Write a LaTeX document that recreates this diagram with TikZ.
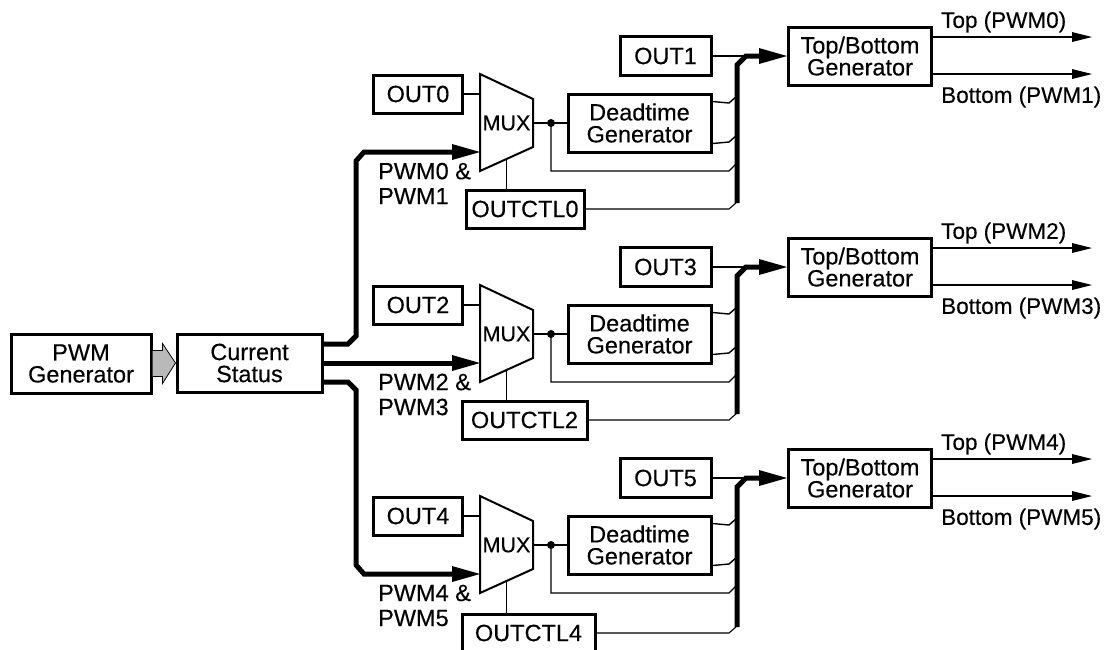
\documentclass[tikz,border=0pt]{standalone}
\usepackage{fontspec}
\setmainfont[FakeBold=0.3]{Liberation Sans}
\usetikzlibrary{arrows.meta,calc}
\newcommand\fsA{\fontsize{23.5}{22}\selectfont}
\newcommand\fsB{\fontsize{21.5}{21}\selectfont}
\newcommand\fsC{\fontsize{23.5}{25}\selectfont}
\newcommand\fsD{\fontsize{22.5}{22}\selectfont}
\begin{document}
\begin{tikzpicture}[x=1pt,y=-1pt,
  box/.style={draw,line width=3pt,inner sep=0pt,align=center,font=\fsA},
  wire/.style={line width=1.4pt},
  fine/.style={line width=1.1pt},
  bus/.style={line width=5pt},
  bigtip/.style={-{Triangle[length=28pt,width=16pt,line width=0pt]}},
  outtip/.style={-{Triangle[length=20pt,width=10pt,line width=0pt]}},
  lbl/.style={inner sep=0pt,font=\fsA,align=left}]
\useasboundingbox (0,0) rectangle (1112,649);
\fill[white] (0,0) rectangle (1112,649);
\clip (0,0) rectangle (1112,649);

\node[box,minimum width=140pt,minimum height=59pt] (pwm) at (81,363.5) {PWM\\Generator};
\node[box,minimum width=145pt,minimum height=58pt] (cs) at (249.5,363) {Current\\Status};
\filldraw[fill=gray!55,line width=0.8pt,line join=miter]
  ($(pwm.east)+(0,-13)$) -- ++(10,0) -- ++(0,-7) -- (cs.west)
  -- ($(pwm.east)+(10,20)$) -- ++(0,-7) -- ($(pwm.east)+(0,13)$);

\foreach \k/\o/\cx/\cw/\cy in {0/0/525/118/209, 1/211/524.5/125/209, 2/422/528.5/133/211}{
  \pgfmathtruncatemacro\ev{2*\k}
  \pgfmathtruncatemacro\od{2*\k+1}
  \begin{scope}[shift={(0,\o)}]
    \node[box,minimum width=89pt,minimum height=38pt] (out\ev) at (418,94) {OUT\ev};
    \node[box,minimum width=91pt,minimum height=39pt] (out\od) at (665.5,56) {OUT\od};
    \node[box,minimum width=143pt,minimum height=58pt] (dt\k) at (639.5,123) {Deadtime\\Generator};
    \node[box,minimum width=\cw pt,minimum height=38pt] (ctl\k) at (\cx,\cy) {OUTCTL\ev};
    \node[box,minimum width=143pt,minimum height=58pt] (tb\k) at (860,56) {Top/Bottom\\Generator};
    \draw[line width=2pt,line join=miter] (480,74) -- (533,99) -- (533,147) -- (480,171) -- cycle;
    \node[inner sep=0pt,minimum width=53pt,minimum height=97pt,font=\fsB] (mux\k) at (506.5,123) {MUX};
    \coordinate (min\k) at (480,152);
    \coordinate (dot\k) at (551,123);
    \coordinate (tbin\k) at (746,56);
    \coordinate (tt\k) at (1092,37);
    \coordinate (bb\k) at (1092,74);
    \draw[wire] (out\ev.east) -- (out\ev.east -| mux\k.west);
    \draw[wire] (mux\k.east) -- (dot\k) -- (dt\k.west);
    \fill (dot\k) circle (4pt);
    \draw[fine] (dot\k) -- (551,171) -- (729,171) -- (737,163);
    \draw[wire] ($(dt\k.north east)+(0,9)$) -- (729,103) -- (737,96);
    \draw[wire] ($(dt\k.south east)+(0,-10)$) -- (729,142) -- (737,135);
    \draw[fine] (ctl\k.east) -- (729,\cy) -- (737,\cy-7);
    \draw[wire] ($(mux\k.center)+(0,36)$) -- (ctl\k.north -| mux\k);
    \draw[wire] (out\od.east) -- (tbin\k);
    \draw[bus,bigtip] (737,\cy-6) -- (737,65) -- (tbin\k) -- (tb\k.west);
    \draw[wire,outtip] (tb\k.east |- tt\k) -- (tt\k);
    \draw[wire,outtip] (tb\k.east |- bb\k) -- (bb\k);
    \node[lbl,anchor=west,font=\fsD] (tl\k) at (941,22) {Top (PWM\ev)};
    \node[lbl,anchor=west,font=\fsD] (bl\k) at (941,97) {Bottom (PWM\od)};
    \node[lbl,anchor=west,font=\fsC] (pl\k) at (378,183.5) {PWM\ev\ \&\\PWM\od};
  \end{scope}
}

\draw[bus,bigtip] ($(cs.east)+(0,-19)$) -- (348,344) -- (356,336) -- (356,161) -- (364,152) -- (min0);
\draw[bus,bigtip] (cs.east) -- (min1);
\draw[bus,bigtip] ($(cs.east)+(0,19)$) -- (348,382) -- (356,390) -- (356,565) -- (364,574) -- (min2);
\end{tikzpicture}
\end{document}
